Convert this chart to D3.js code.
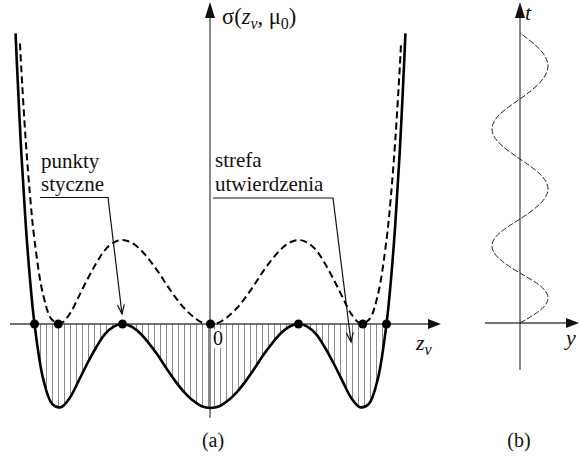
<!DOCTYPE html>
<html>
<head>
<meta charset="utf-8">
<script src="https://cdn.jsdelivr.net/npm/d3@7"></script>
<style>
  body { margin: 0; background: #fff; }
  svg { display: block; }
</style>
</head>
<body>
<div id="chart"></div>
<script>
// solid curve: sigma(z)
const zSolid = [-2.215, -2.2, -2.15, -2.1, -2.05, -2.0, -1.9, -1.8, -1.7, -1.6, -1.5, -1.4, -1.3, -1.2, -1.1, -1.0,
  -0.9, -0.8, -0.7, -0.6, -0.5, -0.4, -0.3, -0.2, -0.1, 0, 0.1, 0.2, 0.3, 0.4, 0.5, 0.6, 0.7, 0.8, 0.9,
  1.0, 1.1, 1.2, 1.3, 1.4, 1.5, 1.6, 1.7, 1.8, 1.9, 2.0, 2.05, 2.1, 2.15, 2.2, 2.215];
const sSolid = [3.46, 3.10, 2.04, 1.19, 0.52, 0, -0.66, -0.95, -0.99, -0.88, -0.68, -0.47, -0.28, -0.12, -0.03, 0,
  -0.03, -0.11, -0.23, -0.37, -0.53, -0.68, -0.81, -0.91, -0.98, -1.00, -0.98, -0.91, -0.81, -0.68, -0.53, -0.37, -0.23, -0.11, -0.03,
  0, -0.03, -0.12, -0.28, -0.47, -0.68, -0.88, -0.99, -0.95, -0.66, 0, 0.52, 1.19, 2.04, 3.10, 3.46];

// dashed curve (shifted by mu0)
const zDash = [-2.165, -2.15, -2.1, -2.05, -2.0, -1.9, -1.8, -1.7, -1.6, -1.5, -1.4, -1.3, -1.2, -1.1, -1.0,
  -0.9, -0.8, -0.7, -0.6, -0.5, -0.4, -0.3, -0.2, -0.1, 0, 0.1, 0.2, 0.3, 0.4, 0.5, 0.6, 0.7, 0.8, 0.9,
  1.0, 1.1, 1.2, 1.3, 1.4, 1.5, 1.6, 1.7, 1.8, 1.9, 2.0, 2.05, 2.1, 2.15, 2.165];
const sDash = [3.34, 3.04, 2.19, 1.52, 1.00, 0.34, 0.05, 0.01, 0.12, 0.32, 0.53, 0.72, 0.88, 0.97, 1.00,
  0.97, 0.89, 0.77, 0.63, 0.47, 0.32, 0.19, 0.09, 0.02, 0, 0.02, 0.09, 0.19, 0.32, 0.47, 0.63, 0.77, 0.89, 0.97,
  1.00, 0.97, 0.88, 0.72, 0.53, 0.32, 0.12, 0.01, 0.05, 0.34, 1.00, 1.52, 2.19, 3.04, 3.34];

// marked points on the z axis
const dotsZ = [-2.0, -1.73, -1.0, 0, 1.0, 1.73, 2.0];

// panel (b): wave y(t)
const tWave = [0, 0.25, 0.5, 0.75, 1.0, 1.27, 1.54, 1.81, 2.08, 2.38, 2.68, 2.98, 3.28, 3.58, 3.88, 4.18,
  4.48, 4.81, 5.14, 5.47, 5.8];
const yWave = [0, 0.71, 1, 0.71, 0, -0.71, -1, -0.71, 0, 0.71, 1, 0.71, 0, -0.71, -1, -0.71,
  0, 0.71, 1, 0.71, 0];

const W = 579, H = 461;
const FONT = "Liberation Serif";
const svg = d3.select("#chart").append("svg").attr("width", W).attr("height", H);

const x = d3.scaleLinear().domain([-1, 1]).range([122.5, 298.5]);
const y = d3.scaleLinear().domain([0, -1]).range([324, 408]);

const solid = zSolid.map((z, i) => ({ z: z, s: sSolid[i] }));
const dash = zDash.map((z, i) => ({ z: z, s: sDash[i] }));

// text helper
function label(px, py, size, str, italic) {
  return svg.append("text").attr("x", px).attr("y", py)
    .attr("font-family", FONT).attr("font-size", size)
    .attr("font-style", italic ? "italic" : "normal")
    .attr("fill", "#111").text(str);
}

// hatching, clipped to the zone below the axis
svg.append("clipPath").attr("id", "zone")
  .append("path")
  .attr("d", d3.area().x(d => x(d.z)).y0(y(0)).y1(d => y(d.s)).curve(d3.curveCatmullRom)(solid));

svg.append("g").attr("clip-path", "url(#zone)")
  .selectAll("line")
  .data(d3.range(x(-2), x(2), 6))
  .enter().append("line")
  .attr("x1", d => d).attr("x2", d => d)
  .attr("y1", y(0)).attr("y2", y(-1.1))
  .attr("stroke", "#8a8a8a").attr("stroke-width", 1);

// axes of panel (a)
svg.append("line").attr("x1", 10).attr("x2", 430).attr("y1", y(0)).attr("y2", y(0))
  .attr("stroke", "#444").attr("stroke-width", 1.5);
svg.append("path").attr("d", `M441,${y(0)} L428,${y(0) - 5} L428,${y(0) + 5} Z`).attr("fill", "#111");
svg.append("line").attr("x1", 210).attr("x2", 210).attr("y1", 418).attr("y2", 14)
  .attr("stroke", "#111").attr("stroke-width", 1);
svg.append("path").attr("d", "M210,2 L205,18 L215,18 Z").attr("fill", "#111");

// curves
const line = d3.line().x(d => x(d.z)).y(d => y(d.s)).curve(d3.curveCatmullRom);
svg.append("path").attr("d", line(solid))
  .attr("fill", "none").attr("stroke", "#000").attr("stroke-width", 2.6);
svg.append("path").attr("d", line(dash))
  .attr("fill", "none").attr("stroke", "#000").attr("stroke-width", 2)
  .attr("stroke-dasharray", "7,4");

svg.append("g").selectAll("circle")
  .data(dotsZ)
  .enter().append("circle")
  .attr("cx", d => x(d)).attr("cy", y(0)).attr("r", 4.5)
  .attr("fill", "#000");

// "0" label with white backing
svg.append("rect").attr("x", 212).attr("y", 329).attr("width", 12).attr("height", 19).attr("fill", "#fff");
label(213, 345, 20, "0");

// leader lines with open arrows
function leader(pts) {
  svg.append("polyline").attr("points", pts.map(p => p.join(",")).join(" "))
    .attr("fill", "none").attr("stroke", "#111").attr("stroke-width", 1.2);
  const a = pts[pts.length - 2], b = pts[pts.length - 1];
  const ang = Math.atan2(b[1] - a[1], b[0] - a[0]);
  const len = 10, spread = 0.35;
  const p1 = [b[0] - len * Math.cos(ang - spread), b[1] - len * Math.sin(ang - spread)];
  const p2 = [b[0] - len * Math.cos(ang + spread), b[1] - len * Math.sin(ang + spread)];
  svg.append("polyline").attr("points", [p1, b, p2].map(p => p.join(",")).join(" "))
    .attr("fill", "none").attr("stroke", "#111").attr("stroke-width", 1.2);
}
leader([[40, 197.5], [108, 197.5], [122, 314]]);
leader([[213, 198], [333, 198], [351, 342]]);

label(41, 168, 21, "punkty");
label(41, 191, 21, "styczne");
label(215, 167, 21, "strefa");
label(215, 191, 21, "utwierdzenia");

// axis titles
const sig = label(222, 24, 22.5, "");
sig.append("tspan").text("σ(");
sig.append("tspan").attr("font-style", "italic").text("z");
sig.append("tspan").attr("dy", 5).attr("font-size", 16).attr("font-style", "italic").text("v");
sig.append("tspan").attr("dy", -5).text(", μ");
sig.append("tspan").attr("dy", 5).attr("font-size", 16).text("0");
sig.append("tspan").attr("dy", -5).text(")");

const zl = label(416, 350, 22, "", true);
zl.append("tspan").text("z");
zl.append("tspan").attr("dy", 5).attr("font-size", 16).text("v");

label(213, 447, 20, "(a)").attr("text-anchor", "middle");

// panel (b)
const yb = d3.scaleLinear().domain([0, 1]).range([520, 548]);
const tb = d3.scaleLinear().domain([0, 1]).range([323, 273]);

svg.append("line").attr("x1", 485).attr("x2", 566).attr("y1", tb(0)).attr("y2", tb(0))
  .attr("stroke", "#444").attr("stroke-width", 1.5);
svg.append("path").attr("d", `M579,${tb(0)} L566,${tb(0) - 5} L566,${tb(0) + 5} Z`).attr("fill", "#111");
svg.append("line").attr("x1", yb(0)).attr("x2", yb(0)).attr("y1", 370).attr("y2", 14)
  .attr("stroke", "#111").attr("stroke-width", 1);
svg.append("path").attr("d", `M${yb(0)},2 L${yb(0) - 5},18 L${yb(0) + 5},18 Z`).attr("fill", "#111");

const wave = tWave.map((t, i) => ({ t: t, v: yWave[i] }));
svg.append("path")
  .attr("d", d3.line().x(d => yb(d.v)).y(d => tb(d.t)).curve(d3.curveNatural)(wave))
  .attr("fill", "none").attr("stroke", "#222").attr("stroke-width", 1)
  .attr("stroke-dasharray", "6,2");

label(525, 20, 22, "t", true);
label(566, 345, 22, "y", true);
label(519, 447, 20, "(b)").attr("text-anchor", "middle");
</script>
</body>
</html>
